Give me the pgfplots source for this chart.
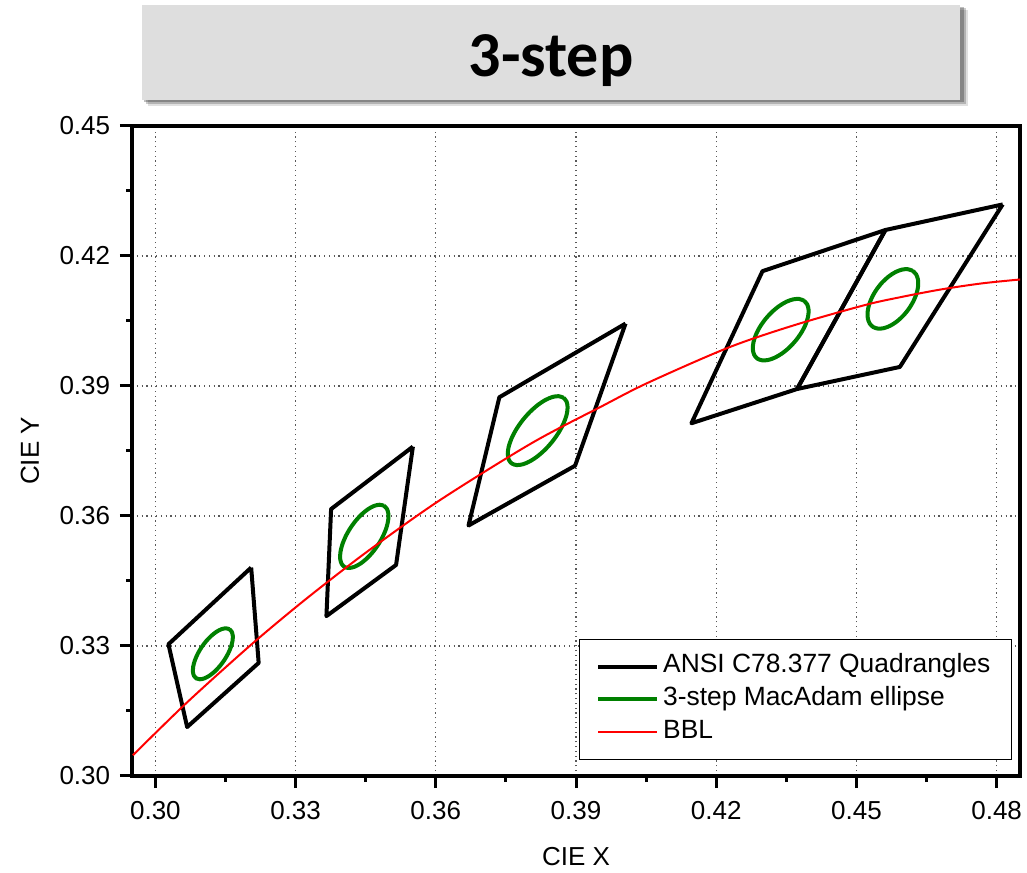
\documentclass[border=0pt]{standalone}
\usepackage{pgfplots}
\pgfplotsset{compat=1.18}
\usepackage{fontspec}
\setmainfont{Liberation Sans}
\newfontfamily\titlefont{Carlito}
\definecolor{titlegray}{RGB}{222,222,222}
\definecolor{ellgreen}{RGB}{0,128,0}
\begin{document}
\begin{tikzpicture}
\path[use as bounding box] (0,0) rectangle (513.5pt,436pt);
% title box with shadow
\fill[black, opacity=0.12] (74pt,383pt) rectangle (484pt,431pt);
\fill[black, opacity=0.2] (73pt,384pt) rectangle (483pt,432pt);
\fill[black, opacity=0.25] (72pt,385pt) rectangle (482pt,432.5pt);
\fill[titlegray] (71pt,386pt) rectangle (480pt,433.5pt);
\node[anchor=base, inner sep=0pt, font=\titlefont\bfseries\fontsize{32}{36}\selectfont] at (275.5pt,397.5pt) {3-step};
\begin{axis}[
  at={(66pt,48pt)}, anchor=south west,
  scale only axis, width=444pt, height=325pt,
  xmin=0.295, xmax=0.485, ymin=0.30, ymax=0.45,
  xtick={0.30,0.33,0.36,0.39,0.42,0.45,0.48},
  ytick={0.30,0.33,0.36,0.39,0.42,0.45},
  minor x tick num=1, minor y tick num=1,
  tick pos=left, tick align=outside,
  major tick length=6pt, minor tick length=3pt,
  every tick/.style={black, line width=1.5pt},
  axis line style={black, line width=1.7pt},
  grid=major,
  major grid style={black!65, line width=0.6pt, dash pattern=on 0.6pt off 1.8pt},
  /pgf/number format/.cd, fixed, fixed zerofill, precision=2, assume math mode=true,
  /pgfplots/.cd,
  tick label style={font=\fontsize{13}{15}\selectfont},
  xticklabel style={yshift=-3pt},
  yticklabel style={xshift=-1.4pt},
  label style={font=\fontsize{13}{15}\selectfont},
  xlabel={CIE X}, ylabel={CIE Y},
  xlabel style={at={(axis description cs:0.5,0)}, anchor=center, yshift=-40.5pt},
  ylabel style={at={(axis description cs:-0.115,0.5)}, anchor=center},
  legend style={at={(axis description cs:0.991,0.025)}, anchor=south east,
    draw=black, line width=0.6pt, font=\fontsize{13.2}{15}\selectfont,
    inner xsep=8.5pt, inner ysep=5.5pt, row sep=0pt,
    nodes={inner sep=2pt, text height=9.3pt, text depth=3pt}},
  legend cell align=left,
  legend image code/.code={\draw[#1] (0pt,0pt) -- (29.5pt,0pt);},
]
% ANSI quadrangles
\addplot[black, line width=2pt, line join=round] coordinates {
 (0.3205,0.3481) (0.3028,0.3304) (0.3068,0.3113) (0.3221,0.3261) (0.3205,0.3481)};
\addlegendentry{ANSI C78.377 Quadrangles}
\addplot[black, line width=2pt, line join=round, forget plot] coordinates {
 (0.3551,0.3760) (0.3376,0.3616) (0.3366,0.3369) (0.3515,0.3487) (0.3551,0.3760)};
\addplot[black, line width=2pt, line join=round, forget plot] coordinates {
 (0.4006,0.4044) (0.3736,0.3874) (0.3670,0.3578) (0.3898,0.3716) (0.4006,0.4044)};
\addplot[black, line width=2pt, line join=round, forget plot] coordinates {
 (0.4562,0.4260) (0.4299,0.4165) (0.4147,0.3814) (0.4373,0.3893) (0.4562,0.4260)};
\addplot[black, line width=2pt, line join=round, forget plot] coordinates {
 (0.4813,0.4319) (0.4562,0.4260) (0.4373,0.3893) (0.4593,0.3944) (0.4813,0.4319)};
% 3-step MacAdam ellipses
\addplot[ellgreen, line width=2pt, smooth] coordinates {
 (0.315822,0.333888) (0.315075,0.334082) (0.314138,0.333877) (0.313077,0.333283)
 (0.311963,0.332344) (0.310872,0.331122) (0.309877,0.329701) (0.309048,0.328178)
 (0.308441,0.326656) (0.308096,0.325239) (0.308038,0.324025) (0.308271,0.323094)
 (0.308778,0.322512) (0.309525,0.322318) (0.310462,0.322523) (0.311523,0.323117)
 (0.312637,0.324056) (0.313728,0.325278) (0.314723,0.326699) (0.315552,0.328222)
 (0.316159,0.329744) (0.316504,0.331161) (0.316562,0.332375) (0.316329,0.333306)
 (0.315822,0.333888)};
\addlegendentry{3-step MacAdam ellipse}
\addplot[ellgreen, line width=2pt, smooth, forget plot] coordinates {
 (0.348888,0.362373) (0.347957,0.362599) (0.346804,0.362327) (0.345508,0.361577)
 (0.344156,0.360399) (0.342842,0.358873) (0.341654,0.357104) (0.340674,0.355213)
 (0.339968,0.353325) (0.339585,0.351574) (0.339550,0.350077) (0.339867,0.348935)
 (0.340512,0.348227) (0.341443,0.348001) (0.342596,0.348273) (0.343892,0.349023)
 (0.345244,0.350201) (0.346558,0.351727) (0.347746,0.353496) (0.348726,0.355387)
 (0.349432,0.357275) (0.349815,0.359026) (0.349850,0.360523) (0.349533,0.361665)
 (0.348888,0.362373)};
\addplot[ellgreen, line width=2pt, smooth, forget plot] coordinates {
 (0.387319,0.387297) (0.386289,0.387650) (0.384953,0.387461) (0.383403,0.386743)
 (0.381744,0.385545) (0.380087,0.383948) (0.378548,0.382063) (0.377231,0.380016)
 (0.376224,0.377947) (0.375598,0.375999) (0.375395,0.374303) (0.375627,0.372974)
 (0.376281,0.372103) (0.377311,0.371750) (0.378647,0.371939) (0.380197,0.372657)
 (0.381856,0.373855) (0.383513,0.375452) (0.385052,0.377337) (0.386369,0.379384)
 (0.387376,0.381453) (0.388002,0.383401) (0.388205,0.385097) (0.387973,0.386426)
 (0.387319,0.387297)};
\addplot[ellgreen, line width=2pt, smooth, forget plot] coordinates {
 (0.438804,0.409672) (0.437788,0.410078) (0.436501,0.410002) (0.435030,0.409449)
 (0.433475,0.408456) (0.431942,0.407092) (0.430536,0.405448) (0.429352,0.403638)
 (0.428471,0.401784) (0.427954,0.400013) (0.427835,0.398446) (0.428122,0.397190)
 (0.428796,0.396328) (0.429812,0.395922) (0.431099,0.395998) (0.432570,0.396551)
 (0.434125,0.397544) (0.435658,0.398908) (0.437064,0.400552) (0.438248,0.402362)
 (0.439129,0.404216) (0.439646,0.405987) (0.439765,0.407554) (0.439478,0.408810)
 (0.438804,0.409672)};
\addplot[ellgreen, line width=2pt, smooth, forget plot] coordinates {
 (0.461996,0.416604) (0.460959,0.416959) (0.459707,0.416846) (0.458325,0.416274)
 (0.456907,0.415281) (0.455550,0.413935) (0.454346,0.412328) (0.453378,0.410569)
 (0.452711,0.408777) (0.452391,0.407076) (0.452439,0.405582) (0.452853,0.404395)
 (0.453604,0.403596) (0.454641,0.403241) (0.455893,0.403354) (0.457275,0.403926)
 (0.458693,0.404919) (0.460050,0.406265) (0.461254,0.407872) (0.462222,0.409631)
 (0.462889,0.411423) (0.463209,0.413124) (0.463161,0.414618) (0.462747,0.415805)
 (0.461996,0.416604)};
% Planckian locus (BBL)
\addplot[red, line width=1pt, smooth] coordinates {
 (0.2952,0.3048) (0.2999,0.3098) (0.3064,0.3166) (0.3135,0.3236) (0.3221,0.3318)
 (0.3324,0.3410) (0.3451,0.3516) (0.3608,0.3636) (0.3805,0.3768) (0.3953,0.3852)
 (0.4053,0.3907) (0.4227,0.3989) (0.4369,0.4041) (0.4519,0.4087) (0.4599,0.4106)
 (0.4682,0.4123) (0.4770,0.4137) (0.4862,0.4147)};
\addlegendentry{BBL}
\end{axis}
\end{tikzpicture}
\end{document}
